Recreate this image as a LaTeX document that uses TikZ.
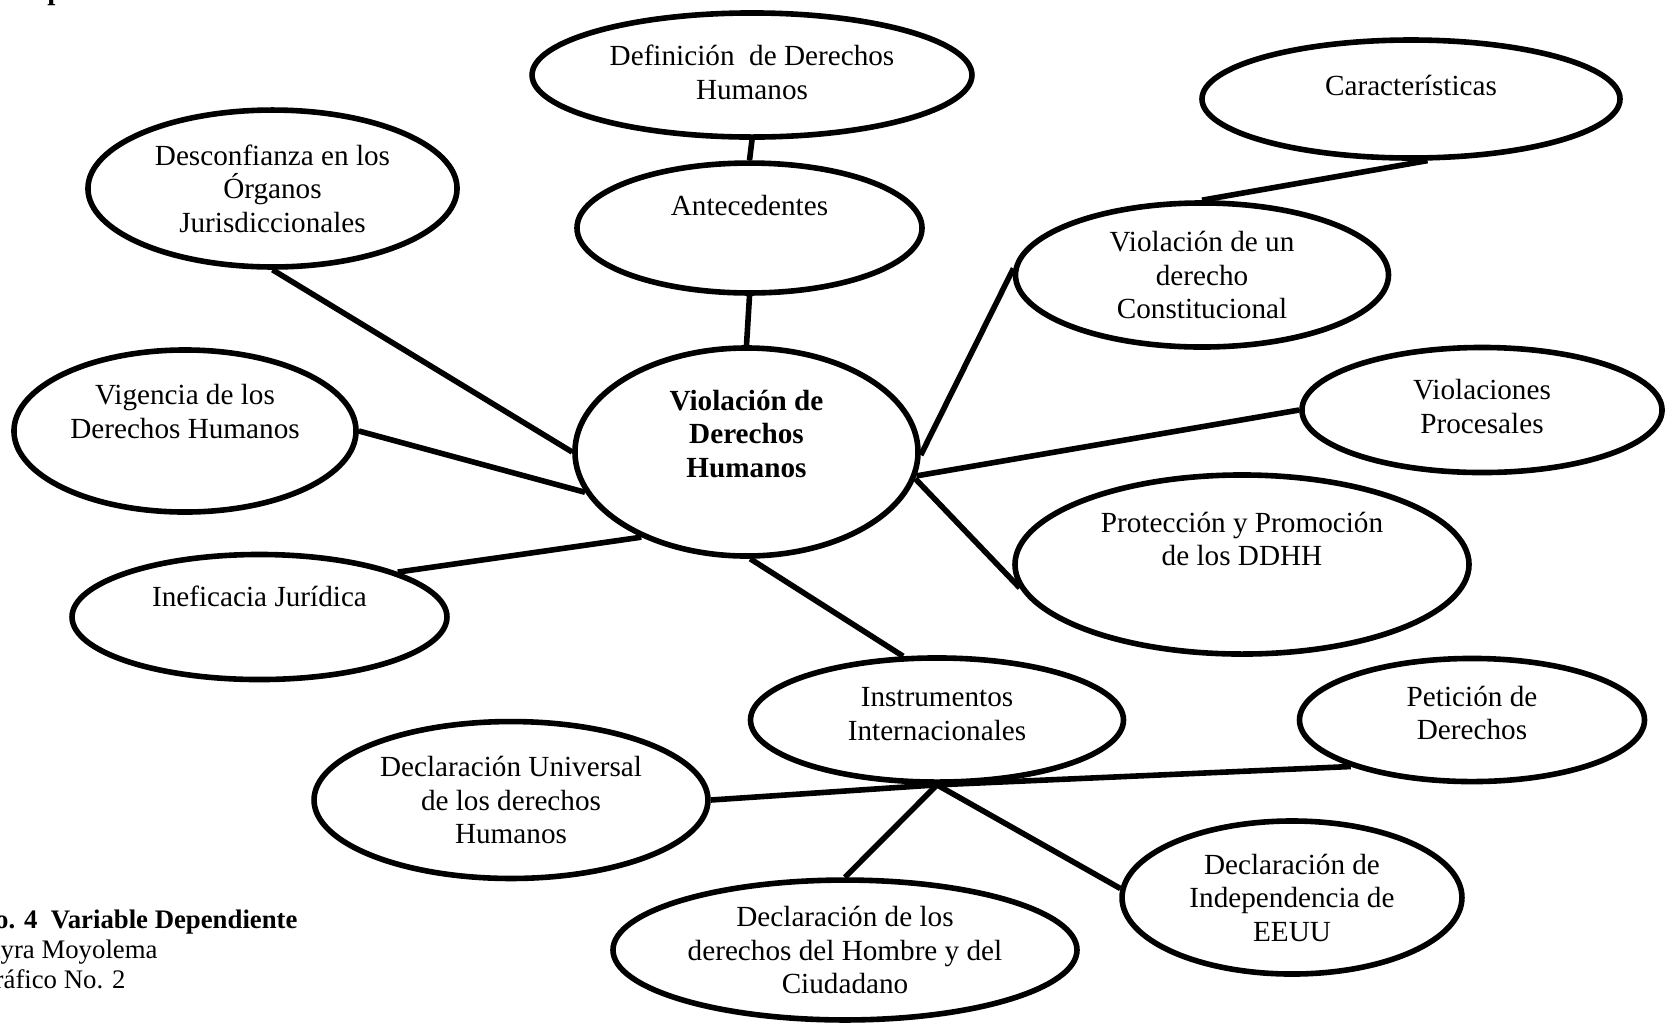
\documentclass[tikz,border=0pt]{standalone}
\usepackage{fontspec}
\setmainfont{Liberation Serif}
\usetikzlibrary{shapes}

\begin{document}
\begin{tikzpicture}[x=0.411pt,y=-0.411pt]

  \tikzstyle{bubble}=[ellipse,draw=black,line width=2.3pt,align=center,
    inner sep=0pt,font=\fontsize{12}{13.8}\selectfont]

  \tikzstyle{caption}=[anchor=base east,inner sep=0pt,
    font=\fontsize{11}{12.3}\selectfont]

  \tikzstyle{link}=[line width=2.3pt]

  \useasboundingbox (0,0) rectangle (1667,1024);

  %% upper branch
  \node  (defi)    at (752,75)     [bubble,minimum width=180.8pt,minimum height=51pt,text depth=2.5pt]
         {Definición\ \ de Derechos\\Humanos};
  \node  (ante)    at (749.5,228)  [bubble,minimum width=141.8pt,minimum height=53.4pt,text depth=19pt]
         {Antecedentes};

  \node  (cara)    at (1411,99)    [bubble,minimum width=171.8pt,minimum height=48.5pt,text depth=11.5pt]
         {Características};
  \node  (const)   at (1202,275)   [bubble,minimum width=153.3pt,minimum height=59.2pt,text depth=-5pt]
         {Violación de un\\derecho\\Constitucional};

  %% left side
  \node  (desc)    at (272.5,188.5) [bubble,minimum width=151.7pt,minimum height=64.5pt,text depth=0pt]
         {Desconfianza en los\\Órganos\\Jurisdiccionales};
  \node  (vig)     at (185,431)    [bubble,minimum width=140.6pt,minimum height=66.6pt,text depth=16pt]
         {Vigencia de los\\Derechos Humanos};
  \node  (inef)    at (259.5,617)  [bubble,minimum width=154.1pt,minimum height=51.4pt,text depth=17pt]
         {Ineficacia Jurídica};

  %% centre
  \node  (central) at (746.5,452)  [bubble,minimum width=141pt,minimum height=85.5pt,text depth=15pt,
                                    font=\fontsize{12}{13.8}\selectfont\bfseries]
         {Violación de\\Derechos\\Humanos};

  %% right side
  \node  (proc)    at (1482,410)   [bubble,minimum width=148pt,minimum height=51.4pt,text depth=3pt]
         {Violaciones\\Procesales};
  \node  (prot)    at (1242,564.5) [bubble,minimum width=186.6pt,minimum height=73.6pt,text depth=21pt]
         {Protección y Promoción\\de los DDHH};

  %% instruments
  \node  (inst)    at (937,720)    [bubble,minimum width=153.3pt,minimum height=51pt,text depth=5pt]
         {Instrumentos\\Internacionales};
  \node  (peti)    at (1472,720)   [bubble,minimum width=141.8pt,minimum height=50.6pt,text depth=6pt]
         {Petición de\\Derechos};
  \node  (univ)    at (511,800)    [bubble,minimum width=161.9pt,minimum height=64.5pt,text depth=0pt]
         {Declaración Universal\\de los derechos\\Humanos};
  \node  (inde)    at (1292,897.5) [bubble,minimum width=139.7pt,minimum height=62.9pt,text depth=0pt]
         {Declaración de\\Independencia de\\EEUU};
  \node  (homb)    at (845,950)    [bubble,minimum width=190.7pt,minimum height=57.5pt,text depth=-5pt]
         {Declaración de los\\derechos del Hombre y del\\Ciudadano};

  \coordinate (hub) at (inst.south);

  %% cut-off texts at the page edges
  \node  (frag)    at (47,-1)      [anchor=base west,inner sep=0pt,font=\fontsize{12}{13.8}\selectfont\bfseries] {p};
  \node  (capa)    at (298,928)    [caption,font=\fontsize{11}{12.3}\selectfont\bfseries] {o. 4\ \ Variable Dependiente};
  \node  (capb)    at (158,958)    [caption] {ayra Moyolema};
  \node  (capc)    at (126,988)    [caption] {ráfico No. 2};

  \path (defi.south)  edge [link] (ante.north)
        (ante.south)  edge [link] (central.north)
        (cara.-75)    edge [link] (const.north)

        (desc.south)  edge [link] (central.west)
        (vig.east)    edge [link] (central.194)
        (inef.18)     edge [link] (central.219)

        (const.178)   edge [link] (central.-1)
        (proc.west)   edge [link] (central.-8)
        (prot.186)    edge [link] (central.-9)

        (central.-88) edge [link] (inst.118)
        (hub)         edge [link] (homb.north)
                      edge [link] (inde.177);

  \draw [link] (univ.east) -- (hub) -- (peti.201);

\end{tikzpicture}
\end{document}
